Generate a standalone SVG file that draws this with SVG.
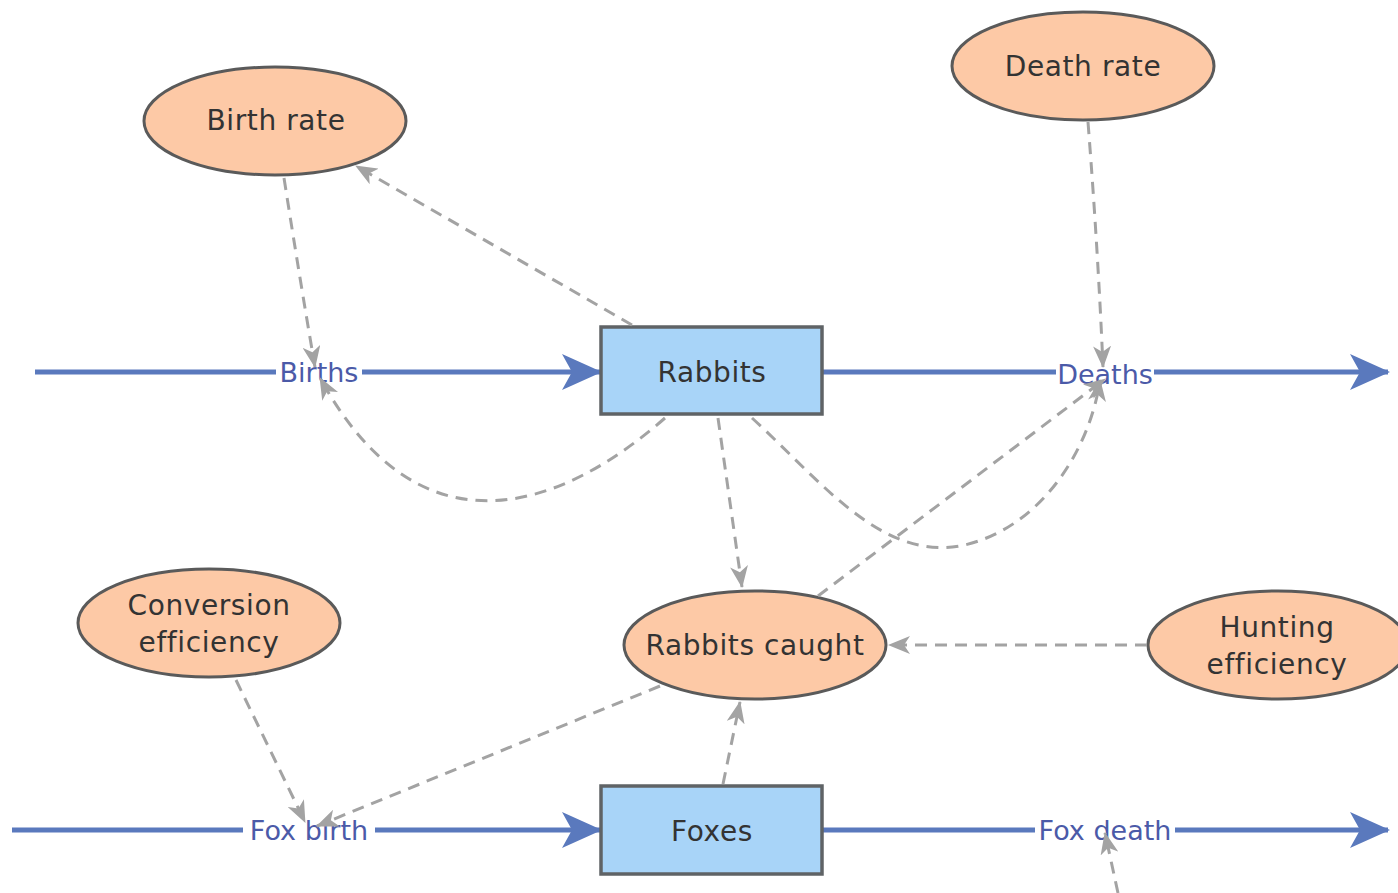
<svg xmlns="http://www.w3.org/2000/svg" width="1398" height="893" viewBox="0 0 1398 893">
  <style>
    .aux ellipse { fill: #fdc9a6; stroke: #5a5a5a; stroke-width: 3; }
    .stock rect { fill: #a8d4f8; stroke: #5f6366; stroke-width: 3.5; }
    .lbl { font-family: "DejaVu Sans", "Liberation Sans", sans-serif; font-size: 28px; letter-spacing: 0.6px; fill: #333; text-anchor: middle; dominant-baseline: central; }
    .flow line { stroke: #5a79bd; stroke-width: 5; }
    .flowlbl rect { fill: #fff; }
    .flowlbl text { font-family: "DejaVu Sans", "Liberation Sans", sans-serif; font-size: 27px; fill: #4b5aa8; text-anchor: middle; dominant-baseline: central; }
    .link { fill: none; stroke: #a3a3a3; stroke-width: 3; stroke-dasharray: 12 8; marker-end: url(#dep); }
  </style>
  <defs>
    <marker id="flowhead" viewBox="0 0 40 36" refX="38" refY="18" markerWidth="40" markerHeight="36" markerUnits="userSpaceOnUse" orient="auto">
      <path d="M0,0 L40,18 L0,36 L10,18 Z" fill="#5a79bd"/>
    </marker>
    <marker id="dep" viewBox="0 0 22 18" refX="21" refY="9" markerWidth="22" markerHeight="18" markerUnits="userSpaceOnUse" orient="auto">
      <path d="M0,0 L22,9 L0,18 L6,9 Z" fill="#a3a3a3"/>
    </marker>
  </defs>

  <rect width="1398" height="893" fill="#fff"/>

  <!-- material flows -->
  <g id="flows" class="flow">
    <line x1="35" y1="372" x2="600" y2="372" marker-end="url(#flowhead)"/>
    <line x1="822" y1="372" x2="1388" y2="372" marker-end="url(#flowhead)"/>
    <line x1="12" y1="830" x2="600" y2="830" marker-end="url(#flowhead)"/>
    <line x1="822" y1="830" x2="1388" y2="830" marker-end="url(#flowhead)"/>
  </g>

  <!-- flow valves (labels on the pipes) -->
  <g id="births" class="flowlbl">
    <rect x="276" y="358" width="86" height="30"/>
    <text x="319" y="372">Births</text>
  </g>
  <g id="deaths" class="flowlbl">
    <rect x="1056" y="360" width="98" height="30"/>
    <text x="1105" y="374">Deaths</text>
  </g>
  <g id="fox-birth" class="flowlbl">
    <rect x="243" y="816" width="132" height="30"/>
    <text x="309" y="830">Fox birth</text>
  </g>
  <g id="fox-death" class="flowlbl">
    <rect x="1035" y="816" width="140" height="30"/>
    <text x="1105" y="830">Fox death</text>
  </g>

  <!-- stocks -->
  <g id="rabbits" class="stock">
    <rect x="601" y="327" width="221" height="87"/>
    <text class="lbl" x="712" y="372">Rabbits</text>
  </g>
  <g id="foxes" class="stock">
    <rect x="601" y="786" width="221" height="88"/>
    <text class="lbl" x="712" y="831">Foxes</text>
  </g>

  <!-- auxiliary variables -->
  <g id="birth-rate" class="aux">
    <ellipse cx="275" cy="121" rx="131" ry="54"/>
    <text class="lbl" x="276" y="120">Birth rate</text>
  </g>
  <g id="death-rate" class="aux">
    <ellipse cx="1083" cy="66" rx="131" ry="54"/>
    <text class="lbl" x="1083" y="66">Death rate</text>
  </g>
  <g id="conversion-efficiency" class="aux">
    <ellipse cx="209" cy="623" rx="131" ry="54"/>
    <text class="lbl" x="209" y="605">Conversion</text>
    <text class="lbl" x="209" y="642">efficiency</text>
  </g>
  <g id="rabbits-caught" class="aux">
    <ellipse cx="755" cy="645" rx="131" ry="54"/>
    <text class="lbl" x="755" y="645">Rabbits caught</text>
  </g>
  <g id="hunting-efficiency" class="aux">
    <ellipse cx="1278" cy="645" rx="130" ry="54"/>
    <text class="lbl" x="1277" y="627">Hunting</text>
    <text class="lbl" x="1277" y="664">efficiency</text>
  </g>

  <!-- information links -->
  <g id="connectors">
    <path class="link" d="M284,178 Q300,280 315,367"/>
    <path class="link" d="M632,325 L356,166"/>
    <path class="link" d="M665,418 C560,510 420,560 320,378"/>
    <path class="link" d="M1088,122 Q1098,250 1103,367"/>
    <path class="link" d="M752,418 C820,480 880,560 960,546 C1040,530 1090,450 1100,380"/>
    <path class="link" d="M818,596 L1105,379"/>
    <path class="link" d="M718,418 L742,587"/>
    <path class="link" d="M1147,645 L889,645"/>
    <path class="link" d="M723,784 L740,702"/>
    <path class="link" d="M236,680 L305,822"/>
    <path class="link" d="M660,686 L317,826"/>
    <path class="link" d="M1118,893 L1105,833"/>
  </g>
</svg>
